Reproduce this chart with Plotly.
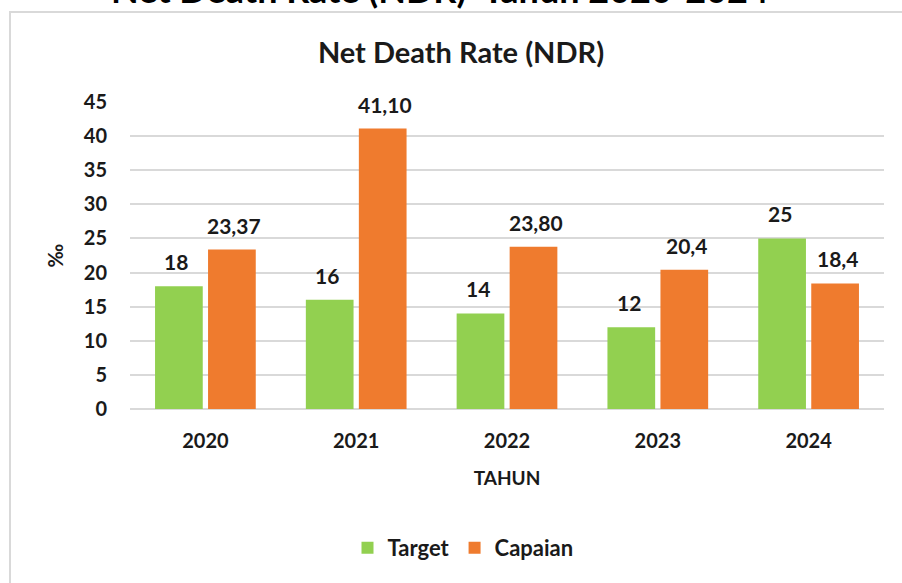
import plotly.graph_objects as go

years = ["2020", "2021", "2022", "2023", "2024"]
target = [18, 16, 14, 12, 25]
capaian = [23.37, 41.10, 23.80, 20.4, 18.4]
target_labels = ["18", "16", "14", "12", "25"]
capaian_labels = ["23,37", "41,10", "23,80", "20,4", "18,4"]
y_ticks = [0, 5, 10, 15, 20, 25, 30, 35, 40, 45]

FONT = "Lato"
GREEN = "#92d050"
ORANGE = "#ef7b2e"
GRID = "#d9d9d9"

W, H = 902, 583
L, R, T, B = 130, 18, 102, 174
pw, ph = W - L - R, H - T - B

def px_x(px):
    return (px - L) / pw

def px_y(py):
    return (H - B - py) / ph

fig = go.Figure()
fig.add_trace(go.Bar(name="Target", x=years, y=target, marker=dict(color=GREEN, line=dict(width=0))))
fig.add_trace(go.Bar(name="Capaian", x=years, y=capaian, marker=dict(color=ORANGE, line=dict(width=0))))

annotations = []
for xs, vals, labs in ((-29, target, target_labels), (29, capaian, capaian_labels)):
    for i, (v, lab) in enumerate(zip(vals, labs)):
        annotations.append(dict(x=i, y=v, xref="x", yref="y", text="<b>%s</b>" % lab,
                                showarrow=False, xshift=xs, yshift=10, yanchor="bottom",
                                font=dict(family=FONT, size=21, color="#1a1a1a")))

# partially cut heading above the chart frame
annotations.append(dict(x=px_x(440), y=px_y(13), xref="paper", yref="paper",
                        text="<b>Net Death Rate (NDR)  Tahun 2020-2024</b>", showarrow=False,
                        xanchor="center", yanchor="bottom",
                        font=dict(family=FONT, size=36, color="black")))

fig.update_layout(
    width=W, height=H,
    margin=dict(l=L, r=R, t=T, b=B),
    paper_bgcolor="white", plot_bgcolor="white",
    barmode="group", bargap=0.297, bargroupgap=0.1,
    title=dict(text="<b>Net Death Rate (NDR)</b>", x=461 / W, xanchor="center",
               y=1 - 53 / H, yanchor="middle",
               font=dict(family=FONT, size=29, color="#1a1a1a")),
    legend=dict(orientation="h", x=px_x(463), xanchor="center", y=px_y(548), yanchor="middle",
                font=dict(family=FONT, size=22, color="#1a1a1a", weight="bold"), itemclick=False,
                traceorder="normal", tracegroupgap=0),
    showlegend=True,
    annotations=annotations,
    shapes=[dict(type="rect", xref="paper", yref="paper",
                 x0=px_x(10), x1=px_x(920), y0=px_y(600), y1=px_y(12),
                 line=dict(color=GRID, width=2), fillcolor="rgba(0,0,0,0)", layer="below")],
    font=dict(family=FONT, color="#1a1a1a"),
)

fig.update_xaxes(
    type="category", range=[-0.5, 4.5], autorange=False,
    showgrid=False, showline=False, ticks="",
    ticklabelstandoff=18,
    tickfont=dict(family=FONT, size=20, color="#1a1a1a", weight="bold"),
    title=dict(text="<b>TAHUN</b>", standoff=20, font=dict(family=FONT, size=19, color="#1a1a1a")),
)
fig.update_yaxes(
    range=[0, 45], autorange=False, tickvals=y_ticks, showgrid=True, gridcolor=GRID, gridwidth=2,
    zeroline=True, zerolinecolor=GRID, zerolinewidth=2, showline=False, ticks="",
    ticklabelstandoff=22,
    tickfont=dict(family=FONT, size=20, color="#1a1a1a", weight="bold"),
    title=dict(text="<b>‰</b>", standoff=14, font=dict(family=FONT, size=20, color="#1a1a1a")),
)

fig.write_html("out.html", config={"displayModeBar": False},
               post_script="document.body.style.margin='0';document.body.style.overflow='hidden';")
